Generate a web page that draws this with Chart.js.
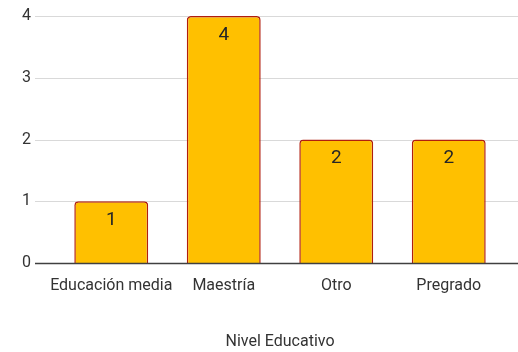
<!DOCTYPE html>
<html>
<head>
<meta charset="utf-8">
<script src="https://cdn.jsdelivr.net/npm/chart.js@4"></script>
<style>
  html, body { margin: 0; padding: 0; background: #fff; }
  #wrap { width: 518px; height: 352px; }
</style>
</head>
<body>
<div id="wrap"><canvas id="nivelChart"></canvas></div>
<script>
const categories = ['Educación media', 'Maestría', 'Otro', 'Pregrado'];
const counts = [1, 4, 2, 2];
const yTicks = [0, 1, 2, 3, 4];

const FONT = 'Roboto, "Noto Sans", sans-serif';

// gridlines run past the bar area on both sides, like the original
function hLine(chart, v, color, width) {
    const { ctx, scales: { y } } = chart;
    const py = Math.round(y.getPixelForValue(v)) + 0.5;
    ctx.beginPath();
    ctx.moveTo(35, py);
    ctx.lineTo(chart.width, py);
    ctx.strokeStyle = color;
    ctx.lineWidth = width;
    ctx.stroke();
}

const gridLines = {
    id: 'gridLines',
    beforeDatasetsDraw(chart) {
        chart.ctx.save();
        yTicks.filter(v => v !== 0).forEach(v => hLine(chart, v, '#d9d9d9', 1.2));
        chart.ctx.restore();
    },
    afterDatasetsDraw(chart) {
        chart.ctx.save();
        hLine(chart, 0, '#404040', 1.5);
        chart.ctx.restore();
    }
};

const barLabels = {
    id: 'barLabels',
    afterDatasetsDraw(chart) {
        const { ctx } = chart;
        const meta = chart.getDatasetMeta(0);
        ctx.save();
        ctx.fillStyle = '#262626';
        ctx.font = '19px ' + FONT;
        ctx.textAlign = 'center';
        ctx.textBaseline = 'middle';
        meta.data.forEach((bar, i) => {
            ctx.fillText(counts[i], bar.x, bar.y + 19);
        });
        ctx.restore();
    }
};

new Chart(document.getElementById('nivelChart'), {
    type: 'bar',
    data: {
        labels: categories,
        datasets: [{
            data: counts,
            backgroundColor: '#FFC000',
            borderColor: '#B01E0E',
            borderWidth: 1.5,
            borderSkipped: 'bottom',
            borderRadius: { topLeft: 4, topRight: 4 },
            categoryPercentage: 1,
            barPercentage: 0.657
        }]
    },
    options: {
        responsive: true,
        maintainAspectRatio: false,
        animation: false,
        layout: { padding: { top: 16, right: 13, left: 0, bottom: 0 } },
        plugins: {
            legend: { display: false },
            tooltip: { enabled: false }
        },
        scales: {
            x: {
                grid: { display: false, drawTicks: false },
                border: { display: false },
                afterFit: scale => { scale.height = 89; },
                ticks: {
                    color: '#333',
                    font: { family: FONT, size: 16 },
                    padding: 13,
                    maxRotation: 0,
                    minRotation: 0,
                    autoSkip: false
                },
                title: {
                    display: true,
                    text: 'Nivel Educativo',
                    color: '#333',
                    font: { family: FONT, size: 16 },
                    padding: { top: 30, bottom: 0 }
                }
            },
            y: {
                min: 0,
                max: 4,
                grid: { display: false, drawTicks: false },
                border: { display: false },
                afterFit: scale => {
                    scale.width = 55;
                    scale.paddingTop = 0;
                    scale.paddingBottom = 0;
                },
                afterBuildTicks: scale => { scale.ticks = yTicks.map(v => ({ value: v })); },
                ticks: {
                    color: '#333',
                    font: { family: FONT, size: 16 },
                    padding: 24
                }
            }
        }
    },
    plugins: [gridLines, barLabels]
});
</script>
</body>
</html>
